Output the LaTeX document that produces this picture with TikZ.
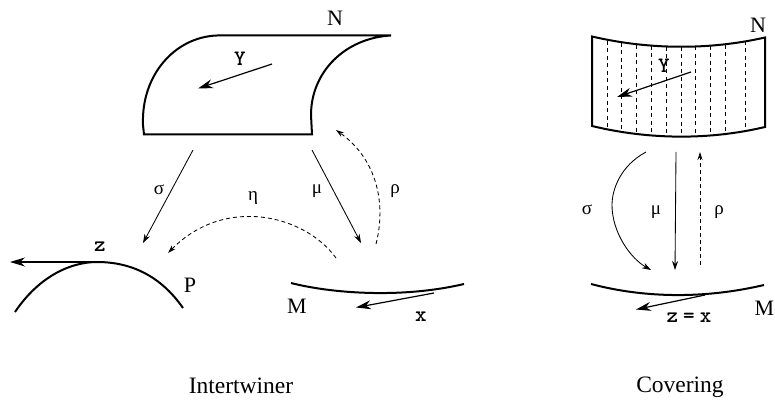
\documentclass[tikz,border=0pt]{standalone}
\usepackage{fontspec}
\setmainfont{Liberation Serif}
\usetikzlibrary{arrows.meta}
\tikzset{
  surf/.style={line width=2pt,line join=miter},
  thin arrow/.style={line width=0.85pt,-{Stealth[length=9pt,width=6pt]}},
  vec arrow/.style={line width=1.2pt,-{Stealth[length=15pt,width=9pt]}},
  dash arrow/.style={line width=0.85pt,dash pattern=on 4pt off 3pt,-{Stealth[length=8pt,width=5pt]}},
  fiber/.style={line width=0.8pt,dash pattern=on 4pt off 3.5pt},
  lab/.style={inner sep=0pt,font=\fontsize{22}{22}\selectfont},
  greek/.style={inner sep=0pt,font=\fontsize{19}{19}\selectfont},
  vecl/.style={inner sep=0pt,font=\fontsize{22}{22}\selectfont\ttfamily\bfseries\addfontfeature{FakeBold=2}},
  cap text/.style={inner sep=0pt,font=\fontsize{23.5}{23.5}\selectfont}
}
\begin{document}
\begin{tikzpicture}[x=1pt,y=-1pt]
\useasboundingbox (0,0) rectangle (775,403);
% left: surfaces
\draw[surf] (391,35.5) -- (217,35.5) .. controls (175,37) and (141,75) .. (143,125) -- (144,134.5) -- (312,134.5) -- (311,115) .. controls (311,72) and (345,38) .. (391,35.5);
\draw[surf] (15,312) .. controls (40,275) and (72,262) .. (97,262) .. controls (130,262) and (160,275) .. (183,308);
\draw[surf] (291,283) .. controls (330,293) and (400,299) .. (464,284);
% left: free ends
\coordinate (ya) at (272,64);  \coordinate (yb) at (198,88.5);
\coordinate (sa) at (193,150); \coordinate (sb) at (143,243);
\coordinate (ma) at (312,150); \coordinate (mb) at (361,243);
\coordinate (ra) at (376,244); \coordinate (rb) at (336,130);
\coordinate (ea) at (336,258); \coordinate (eb) at (168,253);
\coordinate (za) at (97,262);  \coordinate (zb) at (10,262);
\coordinate (xa) at (434,293); \coordinate (xb) at (356,307.5);
\draw[vec arrow] (ya) -- (yb);
\draw[thin arrow] (sa) -- (sb);
\draw[thin arrow] (ma) -- (mb);
\draw[dash arrow] (ra) .. controls (386,205) and (378,160) .. (rb);
\draw[dash arrow] (ea) .. controls (305,215) and (225,195) .. (eb);
\draw[vec arrow] (za) -- (zb);
\draw[vec arrow] (xa) -- (xb);
% left: labels
\node[lab] (nN) at (335,18) {N};
\node[vecl] (nY) at (240,59) {Y};
\node[greek] (ns) at (159,190) {σ};
\node[greek] (nm) at (317,191) {μ};
\node[greek] (nr) at (395,191) {ρ};
\node[greek] (ne) at (253,198) {η};
\node[vecl] (nz) at (100,247) {z};
\node[lab] (nP) at (190,285) {P};
\node[lab] (nM) at (297,306) {M};
\node[vecl] (nx) at (421,317) {x};
\node[cap text] (c1) at (241,386) {Intertwiner};
% right: surface
\draw[surf] (592,36.5) .. controls (650,50) and (710,50) .. (765,37.5) -- (765,127) .. controls (710,140) and (650,140) .. (592,126) -- cycle;
\foreach \n/\xx/\t/\b in {a/607/41/130,b/621.5/43/132,c/636.5/45.5/135,d/651.5/46/135,e/666/47/136,f/681/47/136,g/695.5/46.5/136,h/710/46/135,i/725/45/135,j/745/41/130}{
  \coordinate (t\n) at (\xx,\t);
  \coordinate (b\n) at (\xx,\b);
  \draw[fiber] (t\n) -- (b\n);
}
\draw[surf] (591,284) .. controls (640,297) and (700,300) .. (764,285);
% right: free ends
\coordinate (Ya) at (691,72);  \coordinate (Yb) at (617,97);
\coordinate (Sa) at (646,152); \coordinate (Sb) at (651,270);
\coordinate (Ma) at (676,152); \coordinate (Mb) at (675,270);
\coordinate (Ra) at (700,265); \coordinate (Rb) at (700,152);
\coordinate (Xa) at (705,295); \coordinate (Xb) at (636,309.5);
\draw[vec arrow] (Ya) -- (Yb);
\draw[thin arrow] (Sa) .. controls (620,166) and (612,190) .. (612,205) .. controls (612,232) and (630,258) .. (Sb);
\draw[thin arrow] (Ma) -- (Mb);
\draw[dash arrow] (Ra) -- (Rb);
\draw[vec arrow] (Xa) -- (Xb);
% right: labels
\node[lab] (rN) at (758,25) {N};
\node[vecl] (rY) at (664,66) {Y};
\node[greek] (rs) at (587,210) {σ};
\node[greek] (rm) at (656,212) {μ};
\node[greek] (rr) at (719,212) {ρ};
\node[vecl] (rz) at (689,318) {z\hspace{5pt}=\hspace{5pt}x};
\node[lab] (rM) at (764.5,308) {M};
\node[cap text] (c2) at (680,387) {Covering};
\end{tikzpicture}
\end{document}
